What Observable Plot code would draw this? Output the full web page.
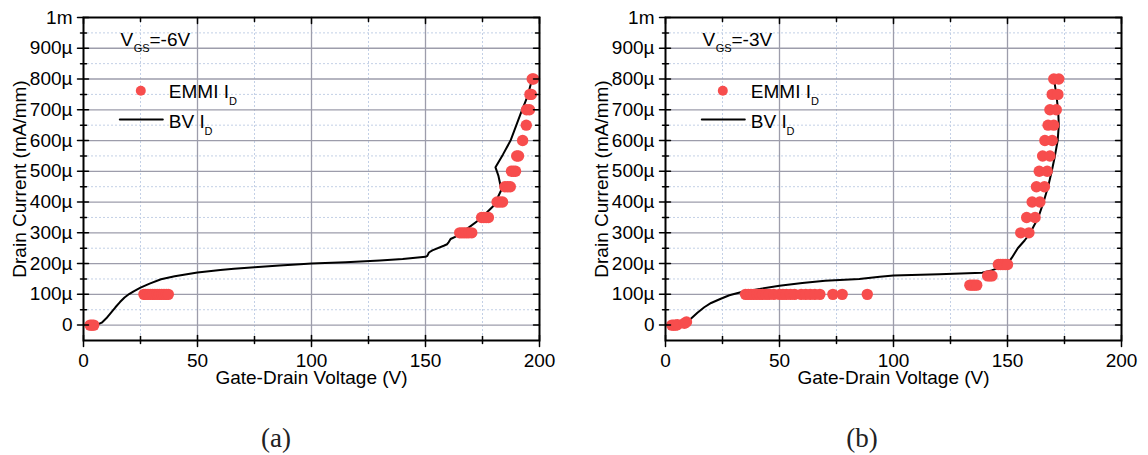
<!DOCTYPE html>
<html>
<head>
<meta charset="utf-8">
<script src="https://cdn.jsdelivr.net/npm/d3@7"></script>
<script src="https://cdn.jsdelivr.net/npm/@observablehq/plot@0.6"></script>
<style>
  body { margin: 0; background: #fff; }
  #fig { position: relative; width: 1148px; height: 455px; background: #fff; }
  .panel { position: absolute; top: 0; }
  .cap { position: absolute; top: 423px; font-family: "Liberation Serif", "DejaVu Serif", serif; font-size: 27px; line-height: 30px; transform: translateX(-50%); color: #222; }
</style>
</head>
<body>
<div id="fig">
  <div id="pa" class="panel" style="left:0px"></div>
  <div id="pb" class="panel" style="left:582px"></div>
  <div class="cap" style="left:276px">(a)</div>
  <div class="cap" style="left:862px">(b)</div>
</div>
<script>
// Axis ticks (drain current in µA/mm units, voltage in V)
const xMajor = [0, 50, 100, 150, 200];
const xMinor = [25, 75, 125, 175];
const yMajor = [0, 100, 200, 300, 400, 500, 600, 700, 800, 900, 1000];
const yMinor = [50, 150, 250, 350, 450, 550, 650, 750, 850, 950];
const yTickLabels = ["0", "100µ", "200µ", "300µ", "400µ", "500µ", "600µ", "700µ", "800µ", "900µ", "1m"];

// (a) VGS = -6 V : EMMI spot currents
const aEmmiV = [2.9, 3.7, 4.5,
  26.5, 27.3, 28.3, 29.3, 30.3, 31.3, 32.3, 33.3, 34.3, 35.3, 36.3, 37.2,
  165, 166, 167, 168, 169, 170.3,
  174.6, 175.6, 176.6, 177.6,
  181.4, 182.6, 183.8,
  184.8, 186, 187.2,
  187.7, 188.6, 189.5,
  190, 190.8,
  192.6,
  194.2,
  194.3, 195.6,
  195.8, 196.4,
  196.8, 197.4];
const aEmmiI = [0, 0, 0,
  100, 100, 100, 100, 100, 100, 100, 100, 100, 100, 100, 100,
  300, 300, 300, 300, 300, 300,
  350, 350, 350, 350,
  400, 400, 400,
  450, 450, 450,
  500, 500, 500,
  550, 550,
  600,
  650,
  700, 700,
  750, 750,
  800, 800];

// (a) breakdown sweep
const aBvV = [6.5, 8, 10, 12, 14, 16, 18, 20, 22, 25, 29, 34, 40, 50, 60, 66, 75, 86, 95, 100, 115, 130, 140, 150,
  150.8, 151.5, 153, 158, 159.5, 160.2, 161, 163, 168, 174, 180, 183.3, 182, 180.7, 184, 187.3, 191.7, 194.6, 196.8];
const aBvI = [3, 8, 22, 40, 58, 75, 90, 101, 110, 122, 135, 149, 159, 171, 179, 183, 188, 194, 198, 200, 204, 210, 215, 222,
  225, 236, 243, 258, 263, 270, 280, 287, 312, 345, 389, 440, 485, 513, 555, 600, 687, 741, 800];

// (b) VGS = -3 V : EMMI spot currents
const bEmmiV = [2.8, 3.6, 4.4, 5.2, 8.3, 9.2,
  35.1, 36.3, 37.5, 38.7, 40, 41.3, 42.6, 44, 45.5, 47.5, 50, 51.5, 53, 54.8, 56.6, 59.5, 61.5, 63.5, 65.5, 67.7, 73.4, 77.5, 88.5,
  133.5, 134.5, 135.5, 136.5,
  141.3, 142.3, 143.2,
  146, 147, 148, 149, 150,
  155.8, 159.4,
  158.4, 162.1,
  160.8, 164.2,
  162.7, 166.2,
  163.9, 167.4,
  165.4, 168.6,
  166.4, 169.6,
  167.8, 170.3,
  168.6, 171.4,
  169.6, 172.1,
  170.3, 172.5];
const bEmmiI = [0, 0, 0, 1, 6, 10,
  100, 100, 100, 100, 100, 100, 100, 100, 100, 100, 100, 100, 100, 100, 100, 100, 100, 100, 100, 100, 100, 100, 100,
  130, 130, 130, 130,
  160, 160, 160,
  197, 197, 197, 197, 197,
  300, 300,
  350, 350,
  400, 400,
  450, 450,
  500, 500,
  550, 550,
  600, 600,
  650, 650,
  700, 700,
  750, 750,
  800, 800];

// (b) breakdown sweep
const bBvV = [8.8, 11, 14, 17, 20, 24, 28, 33, 40, 50, 60, 70, 85, 94, 100, 120, 138.9, 143, 147, 150, 152, 154.5, 157.5,
  160, 163.5, 165.8, 167.8, 169.4, 170.8, 172, 172.5, 172.2, 171.4, 170.5];
const bBvI = [8, 20, 40, 58, 72, 85, 97, 107, 116, 128, 137, 144, 150, 157, 161, 165, 170, 178, 188, 199, 220, 250, 275,
  300, 350, 400, 450, 500, 550, 600, 650, 700, 750, 795];

const RED = "#f74d4d";
const MAJOR_GRID = "#9d9dab";
const MINOR_GRID = "#c3d0e6";
const FONT = "'Liberation Sans', Arial, sans-serif";
const FS = 19;

const rows = (V, I) => V.map((v, k) => ({v, i: I[k]}));

// straight segment used as a vector shape for ticks and the legend swatch
const seg = (x1, y1, x2, y2) => ({draw(ctx) { ctx.moveTo(x1, y1); ctx.lineTo(x2, y2); }});

function panel({width, marginRight, emmi, bv, vgs}) {
  const tick = {stroke: "black", strokeWidth: 1.5, length: 1, anchor: "start"};
  const leg = {frameAnchor: "top-left", textAnchor: "start", lineAnchor: "middle", fill: "black"};
  return Plot.plot({
    width, height: 395,
    marginLeft: 83, marginRight, marginTop: 17, marginBottom: 55,
    style: {fontFamily: FONT, fontSize: FS + "px", background: "white", color: "black"},
    x: {domain: [0, 200]},
    y: {domain: [-50, 1000]},
    marks: [
      Plot.gridX(xMinor, {stroke: MINOR_GRID, strokeOpacity: 1, strokeDasharray: "2,2"}),
      Plot.gridY(yMinor, {stroke: MINOR_GRID, strokeOpacity: 1, strokeDasharray: "2,2"}),
      Plot.gridX(xMajor.slice(1, -1), {stroke: MAJOR_GRID, strokeOpacity: 1, strokeWidth: 1.3}),
      Plot.gridY(yMajor.slice(0, -1), {stroke: MAJOR_GRID, strokeOpacity: 1, strokeWidth: 1.3}),

      Plot.line(bv, {x: "v", y: "i", stroke: "black", strokeWidth: 2}),
      Plot.dot(emmi, {x: "v", y: "i", r: 5.7, fill: RED, stroke: "none"}),

      Plot.frame({stroke: "black", strokeWidth: 2}),

      // in & out ticks on bottom/left, inward ticks on top/right
      Plot.vector(xMajor, {x: d => d, frameAnchor: "bottom", shape: seg(0, -5, 0, 6), ...tick}),
      Plot.vector(xMinor, {x: d => d, frameAnchor: "bottom", shape: seg(0, -4, 0, 3), ...tick}),
      Plot.vector(xMajor, {x: d => d, frameAnchor: "top", shape: seg(0, 0, 0, 6), ...tick}),
      Plot.vector(xMinor, {x: d => d, frameAnchor: "top", shape: seg(0, 0, 0, 4), ...tick}),
      Plot.vector(yMajor, {y: d => d, frameAnchor: "left", shape: seg(-6, 0, 5, 0), ...tick}),
      Plot.vector(yMinor, {y: d => d, frameAnchor: "left", shape: seg(-3, 0, 3, 0), ...tick}),
      Plot.vector(yMajor, {y: d => d, frameAnchor: "right", shape: seg(-6, 0, 0, 0), ...tick}),
      Plot.vector(yMinor, {y: d => d, frameAnchor: "right", shape: seg(-4, 0, 0, 0), ...tick}),

      Plot.axisX({ticks: xMajor, tickSize: 0, tickPadding: 13, label: null, fontSize: FS}),
      Plot.axisY({ticks: yMajor, tickSize: 0, tickPadding: 11, label: null, fontSize: FS,
        tickFormat: d => yTickLabels[yMajor.indexOf(d)]}),
      Plot.text(["Gate-Drain Voltage (V)"], {frameAnchor: "bottom", lineAnchor: "middle", textAnchor: "middle",
        dy: 37.4, fontSize: FS, fill: "black"}),
      Plot.text(["Drain Current (mA/mm)"], {frameAnchor: "left", lineAnchor: "middle", textAnchor: "middle",
        dx: -64, rotate: -90, fontSize: FS, fill: "black"}),

      // legend block
      Plot.text(["V"], {...leg, dx: 37, dy: 22.1, fontSize: FS}),
      Plot.text(["GS"], {...leg, dx: 50.3, dy: 31.2, fontSize: 11}),
      Plot.text([vgs], {...leg, dx: 66, dy: 22.1, fontSize: FS}),
      Plot.dot([0], {frameAnchor: "top-left", dx: 57.3, dy: 73.3, r: 5, fill: RED, stroke: "none"}),
      Plot.text(["EMMI I"], {...leg, dx: 85.3, dy: 74.4, fontSize: FS}),
      Plot.text(["D"], {...leg, dx: 145.5, dy: 83.5, fontSize: 11}),
      Plot.vector([0], {frameAnchor: "top-left", dx: 36.3, dy: 102, length: 1, anchor: "start",
        shape: seg(0, 0, 43, 0), stroke: "black", strokeWidth: 2}),
      Plot.text(["BV I"], {...leg, dx: 85.3, dy: 104.4, fontSize: FS}),
      Plot.text(["D"], {...leg, dx: 121, dy: 113.5, fontSize: 11})
    ]
  });
}

document.getElementById("pa").append(panel({
  width: 582, marginRight: 43,
  emmi: rows(aEmmiV, aEmmiI), bv: rows(aBvV, aBvI), vgs: "=-6V"
}));
document.getElementById("pb").append(panel({
  width: 566, marginRight: 27,
  emmi: rows(bEmmiV, bEmmiI), bv: rows(bBvV, bBvI), vgs: "=-3V"
}));
</script>
</body>
</html>
